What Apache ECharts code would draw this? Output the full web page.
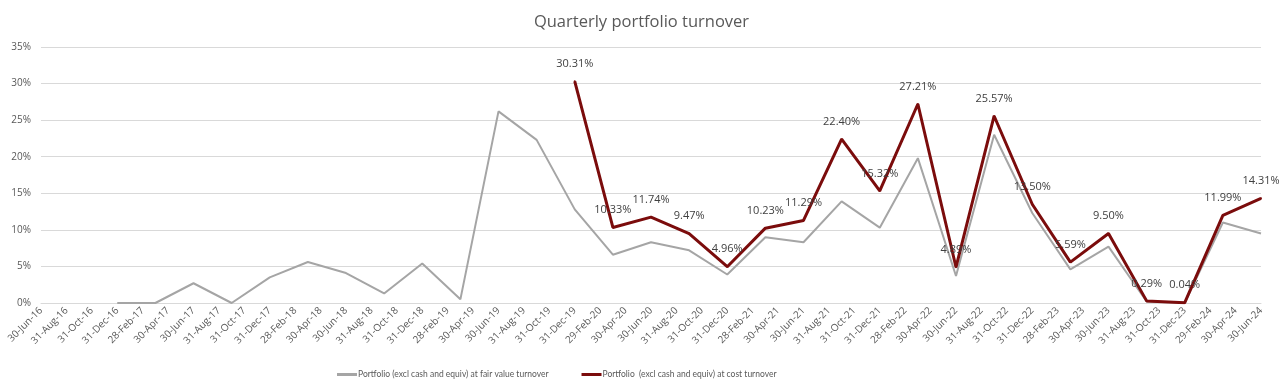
<!DOCTYPE html>
<html>
<head>
<meta charset="utf-8">
<script src="https://cdn.jsdelivr.net/npm/echarts@6/dist/echarts.min.js"></script>
<style>
html,body{margin:0;padding:0;background:#fff;}
#c{width:1283px;height:389px;}
</style>
</head>
<body>
<div id="c"></div>
<script>
// Axis tick labels (every two months, date axis)
var tickLabels = ['30-Jun-16','31-Aug-16','31-Oct-16','31-Dec-16','28-Feb-17','30-Apr-17','30-Jun-17','31-Aug-17','31-Oct-17','31-Dec-17','28-Feb-18','30-Apr-18','30-Jun-18','31-Aug-18','31-Oct-18','31-Dec-18','28-Feb-19','30-Apr-19','30-Jun-19','31-Aug-19','31-Oct-19','31-Dec-19','29-Feb-20','30-Apr-20','30-Jun-20','31-Aug-20','31-Oct-20','31-Dec-20','28-Feb-21','30-Apr-21','30-Jun-21','31-Aug-21','31-Oct-21','31-Dec-21','28-Feb-22','30-Apr-22','30-Jun-22','31-Aug-22','31-Oct-22','31-Dec-22','28-Feb-23','30-Apr-23','30-Jun-23','31-Aug-23','31-Oct-23','31-Dec-23','29-Feb-24','30-Apr-24','30-Jun-24'];

// Quarter-end dates of the fair value series
var fairDates = ['31-Dec-16','31-Mar-17','30-Jun-17','30-Sep-17','31-Dec-17','31-Mar-18','30-Jun-18','30-Sep-18','31-Dec-18','31-Mar-19','30-Jun-19','30-Sep-19','31-Dec-19','31-Mar-20','30-Jun-20','30-Sep-20','31-Dec-20','31-Mar-21','30-Jun-21','30-Sep-21','31-Dec-21','31-Mar-22','30-Jun-22','30-Sep-22','31-Dec-22','31-Mar-23','30-Jun-23','30-Sep-23','31-Dec-23','31-Mar-24','30-Jun-24'];
var fairValues = [0.0,0.0,2.7,0.0,3.5,5.6,4.1,1.3,5.4,0.5,26.2,22.3,12.8,6.6,8.3,7.2,3.9,9.0,8.3,13.9,10.3,19.8,3.7,23.0,12.3,4.6,7.7,0.2,0.03,11.0,9.5];

// Quarter-end dates of the cost series
var costDates = ['31-Dec-19','31-Mar-20','30-Jun-20','30-Sep-20','31-Dec-20','31-Mar-21','30-Jun-21','30-Sep-21','31-Dec-21','31-Mar-22','30-Jun-22','30-Sep-22','31-Dec-22','31-Mar-23','30-Jun-23','30-Sep-23','31-Dec-23','31-Mar-24','30-Jun-24'];
var costValues = [30.31,10.33,11.74,9.47,4.96,10.23,11.29,22.40,15.32,27.21,4.89,25.57,13.50,5.59,9.50,0.29,0.04,11.99,14.31];

var seriesNames = ['Portfolio (excl cash and equiv) at fair value turnover','Portfolio  (excl cash and equiv) at cost turnover'];

var MONTHS = {Jan:1,Feb:2,Mar:3,Apr:4,May:5,Jun:6,Jul:7,Aug:8,Sep:9,Oct:10,Nov:11,Dec:12};
function monthIndex(s){
  var p = s.split('-');
  return (2000 + parseInt(p[2],10) - 2016) * 12 + MONTHS[p[1]] - 6;
}
function pairs(dates, vals){
  return dates.map(function(d,i){ return [monthIndex(d), vals[i]]; });
}

var FONT = '"Open Sans", "Noto Sans", sans-serif';
var LEGFONT = 'Lato, "Open Sans", sans-serif';
var RED = '#7B0C0C';
var GRAY = '#A5A5A5';
var chart = echarts.init(document.getElementById('c'), null, {renderer:'canvas'});
chart.setOption({
  animation:false,
  backgroundColor:'#ffffff',
  title:{
    text:'Quarterly portfolio turnover',
    left:'center', top:9,
    textStyle:{fontFamily:FONT, fontSize:16.5, fontWeight:'normal', color:'#595959'}
  },
  legend:{
    bottom:5, left:332, itemGap:33,
    itemWidth:20, itemHeight:3,
    textStyle:{fontFamily:LEGFONT, fontSize:8.5, color:'#595959', padding:[0,0,0,-4]},
    data:[{name:seriesNames[0], icon:'rect', itemStyle:{color:GRAY}},
          {name:seriesNames[1], icon:'rect', itemStyle:{color:RED}}]
  },
  grid:{left:41, right:22, top:47, bottom:86, containLabel:false},
  xAxis:{
    type:'value', min:0, max:96, interval:2,
    axisLine:{show:true, lineStyle:{color:'#d9d9d9', width:1}},
    axisTick:{show:false},
    splitLine:{show:false},
    axisLabel:{
      rotate:45, margin:6, fontFamily:FONT, fontSize:10, color:'#595959',
      showMinLabel:true, showMaxLabel:true,
      formatter:function(v){ var i = Math.round(v/2); return tickLabels[i] || ''; }
    }
  },
  yAxis:{
    type:'value', min:0, max:35, interval:5,
    axisLine:{show:false}, axisTick:{show:false},
    splitLine:{lineStyle:{color:'#d9d9d9', width:1}},
    axisLabel:{fontFamily:FONT, fontSize:10, color:'#595959', margin:10, formatter:'{value}%'}
  },
  series:[
    {
      name:seriesNames[0], type:'line', data:pairs(fairDates, fairValues),
      showSymbol:false, symbol:'none',
      lineStyle:{color:GRAY, width:2},
      itemStyle:{color:GRAY}, z:2
    },
    {
      name:seriesNames[1], type:'line', data:pairs(costDates, costValues),
      showSymbol:true, symbol:'circle', symbolSize:2,
      lineStyle:{color:RED, width:3},
      itemStyle:{color:RED}, z:3,
      labelLayout:{hideOverlap:false},
      label:{show:true, position:'top', distance:11, fontFamily:FONT, fontSize:11, color:'#404040',
        formatter:function(p){ return p.value[1].toFixed(2) + '%'; }}
    }
  ]
});
</script>
</body>
</html>
